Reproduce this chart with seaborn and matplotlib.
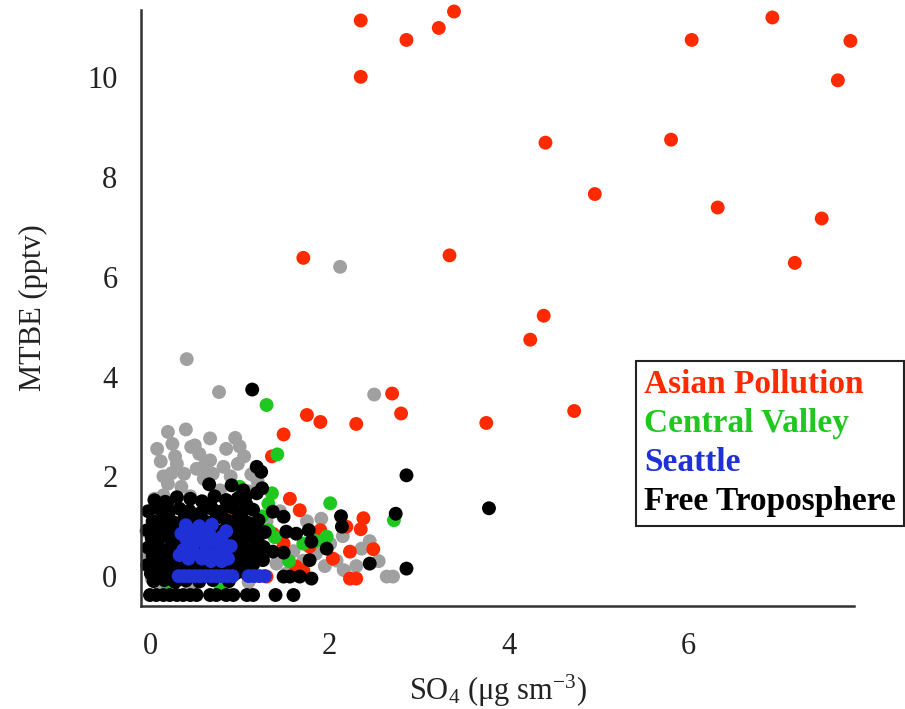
import matplotlib
matplotlib.use("Agg")
import matplotlib.pyplot as plt
from matplotlib.lines import Line2D
import seaborn as sns
import pandas as pd

# ---------------- data ----------------
gray_x = [2.12, 0.41, 0.77, 2.50, 0.20, 0.40, 0.67, 0.95, 0.46, 0.28, 1.05, 0.67, 0.52, 0.82,
          0.24, 1.13, 0.35, 0.15, 0.78, 0.05, 0.30, 0.55, 0.90, 0.12, 0.60, 0.38, 0.98, 0.20,
          0.70, 1.20, 1.10, 0.45, 1.91, 2.36, 2.64, 2.71, 2.01, 1.41, 1.52, 1.71, 2.08, 2.16,
          1.85, 1.60, 1.95, 2.55, 2.45, 1.30, 1.25, -0.03, -0.04, 0.02, 0.10, 0.45, 0.85,
          1.10, 0.02, 1.75, 2.15, 2.30, 1.45, 0.08, 0.25, 0.50, 0.85, 1.00, 0.60, 0.15]
gray_y = [6.20, 4.35, 3.69, 3.64, 2.89, 2.94, 2.76, 2.77, 2.59, 2.40, 2.40, 2.32, 2.15, 2.19,
          2.06, 2.04, 1.79, 1.62, 1.72, 1.55, 2.25, 2.45, 2.00, 2.30, 1.95, 2.05, 2.25, 1.85,
          2.05, 1.90, 1.70, 1.60, 1.15, 0.55, -0.01, -0.01, 0.65, 0.25, 0.05, 0.31, 0.31, 0.12,
          0.45, 0.50, 0.20, 0.30, 0.70, 1.10, 0.60, 0.40, 0.90, 1.30, -0.15, -0.20, -0.15,
          -0.12, -0.05, 1.10, 0.80, 0.20, 1.30, 2.55, 2.65, 2.62, 2.55, 2.60, 2.20, 2.00]

red_x = [2.35, 2.35, 2.86, 3.22, 3.39, 4.41, 4.96, 6.04, 6.94, 7.81, 7.67, 5.81, 3.34, 4.39,
         4.24, 6.33, 7.49, 7.19, 1.71, 2.70, 2.80, 3.75, 4.73,
         1.75, 1.90, 2.30, 1.49, 1.36, 1.56, 1.67, 2.38, 2.35, 2.23, 2.49, 2.23, 2.30, 1.90,
         2.04, 1.63, 1.71, 1.37, 1.49, 1.30, 0.85, 1.06, 1.78, 2.19]
red_y = [11.14, 10.01, 10.75, 10.99, 11.32, 8.69, 7.66, 10.75, 11.20, 10.73, 9.94, 8.75, 6.43,
         5.22, 4.74, 7.39, 7.17, 6.28, 6.38, 3.66, 3.26, 3.07, 3.31,
         3.23, 3.09, 3.05, 2.84, 2.40, 1.55, 1.32, 1.16, 0.94, 0.49, 0.54, -0.05, -0.05, 0.92,
         0.35, 0.19, 0.12, 0.85, 0.65, -0.01, 1.29, 1.09, 0.59, 0.99]

green_x = [1.30, 1.42, 1.36, 2.01, 2.72, 1.32, 1.19, 1.15, 1.32, 1.39, 1.97, 1.71, 1.00, 0.78,
           0.20, 0.89, 1.17, 1.25, 1.55, 1.85]
green_y = [3.43, 2.44, 1.66, 1.46, 1.12, 1.45, 0.59, 0.32, 0.92, 0.78, 0.79, 0.65, 1.79, -0.18,
           -0.18, 0.12, 0.45, 1.20, 0.30, 0.70]

black_x = [1.14, 1.19, 1.24, 2.86, 0.66, 0.91, 1.04, 1.19, 0.19, 0.67, 0.85, 1.08, 1.37, 1.49,
           2.13, 2.74, 2.14, 1.52, 1.63, 1.77, 1.80, 1.97, 1.26, 1.37, 1.49, 1.78, 2.45, 2.86,
           1.49, 1.56, 1.67, 1.80, 3.78, 1.06, 1.25,
           # floor row (below detection)
           0.00, 0.07, 0.15, 0.22, 0.30, 0.37, 0.45, 0.52, 0.67, 0.74, 0.85, 0.93, 1.08, 1.15,
           1.40, 1.60,
           # dense core
           0.05, 0.17, 0.30, 0.45, 0.58, 0.72, 0.85, 0.98,
           -0.02, 0.09, 0.21, 0.33, 0.44, 0.57, 0.70, 0.80, 0.93, 1.03, 1.15,
           0.03, 0.14, 0.26, 0.38, 0.50, 0.62, 0.74, 0.86, 0.97, 1.09, 1.21,
           -0.03, 0.08, 0.20, 0.31, 0.45, 0.58, 0.69, 0.81, 0.94, 1.05, 1.17, 1.28,
           0.02, 0.13, 0.24, 0.36, 0.48, 0.60, 0.72, 0.84, 0.96, 1.08, 1.20,
           -0.02, 0.09, 0.21, 0.33, 0.46, 0.57, 0.69, 0.81, 0.92, 1.04, 1.16, 1.27,
           0.03, 0.15, 0.27, 0.39, 0.51, 0.63, 0.75, 0.87, 0.99, 1.11, 1.23,
           -0.03, 0.08, 0.19, 0.31, 0.43, 0.55, 0.67, 0.79, 0.91, 1.03, 1.15,
           0.01, 0.12, 0.24, 0.36, 0.48, 0.60, 0.72, 0.84, 0.96, 1.08,
           0.04, 0.16, 0.28, 0.40, 0.55, 0.70, 0.88]
black_y = [3.74, 2.19, 2.09, 2.02, 1.84, 1.82, 1.72, 1.66, 1.45, 1.45, 1.52, 1.42, 1.29, 1.19,
           1.20, 1.25, 0.99, 0.89, 0.85, 0.92, 0.69, 0.55, 0.32, 0.49, 0.47, 0.32, 0.25, 0.15,
           -0.01, -0.01, -0.01, -0.05, 1.36, 1.56, 1.76,
           -0.38, -0.38, -0.38, -0.38, -0.38, -0.38, -0.38, -0.38, -0.38, -0.38, -0.38, -0.38,
           -0.38, -0.38, -0.38, -0.38,
           1.52, 1.49, 1.58, 1.55, 1.50, 1.60, 1.52, 1.56,
           1.30, 1.36, 1.28, 1.35, 1.31, 1.27, 1.34, 1.30, 1.37, 1.29, 1.33,
           1.10, 1.15, 1.08, 1.14, 1.12, 1.09, 1.16, 1.11, 1.13, 1.07, 1.12,
           0.92, 0.97, 0.93, 0.96, 0.90, 0.95, 0.98, 0.91, 0.96, 0.93, 0.97, 0.88,
           0.75, 0.79, 0.73, 0.77, 0.78, 0.74, 0.76, 0.80, 0.72, 0.78, 0.74,
           0.57, 0.60, 0.55, 0.59, 0.61, 0.56, 0.58, 0.62, 0.57, 0.60, 0.55, 0.58,
           0.41, 0.38, 0.42, 0.39, 0.43, 0.37, 0.40, 0.42, 0.38, 0.41, 0.36,
           0.22, 0.25, 0.20, 0.23, 0.21, 0.24, 0.19, 0.22, 0.25, 0.20, 0.23,
           0.05, 0.03, 0.07, 0.04, 0.06, 0.02, 0.05, 0.03, 0.06, 0.04,
           -0.10, -0.08, -0.12, -0.09, -0.11, -0.08, -0.10]

blue_x = [0.69, 0.45, 0.41, 0.58, 0.37, 0.50, 0.63, 0.80, 0.84, 0.87, 0.72, 0.58, 0.43, 0.35,
          0.52, 0.66, 0.78, 0.90, 0.48, 0.55, 0.40, 0.73, 0.33, 0.62, 0.80, 0.68, 0.85,
          0.32, 0.38, 0.44, 0.50, 0.56, 0.62, 0.68, 0.74, 0.80, 0.86, 0.92, 1.10, 1.16, 1.22, 1.28]
blue_y = [1.03, 0.91, 0.72, 0.72, 0.52, 0.45, 0.59, 0.78, 0.52, 0.35, 0.42, 0.35, 0.35, 0.85,
          0.88, 0.85, 0.62, 0.60, 0.62, 1.00, 1.02, 0.70, 0.42, 0.45, 0.30, 0.30, 0.90,
          0.0, 0.0, 0.0, 0.0, 0.0, 0.0, 0.0, 0.0, 0.0, 0.0, 0.0, 0.0, 0.0, 0.0, 0.0]

legend_labels = ["Asian Pollution", "Central Valley", "Seattle", "Free Troposphere"]
x_ticks = [0, 2, 4, 6]
y_ticks = [0, 2, 4, 6, 8, 10]

# ---------------- styling ----------------
colors = {"All": "#a0a0a0", "Asian Pollution": "#ff2a00", "Central Valley": "#1ec81e",
          "Seattle": "#1e30d6", "Free Troposphere": "#000000"}

sns.set_theme(style="white")
plt.rcParams["font.family"] = ["Liberation Serif", "DejaVu Serif"]
plt.rcParams["mathtext.fontset"] = "custom"
plt.rcParams["mathtext.rm"] = "Liberation Serif"
plt.rcParams["mathtext.it"] = "Liberation Serif:italic"

frames = [
    pd.DataFrame({"x": gray_x, "y": gray_y, "group": "All"}),
    pd.DataFrame({"x": red_x, "y": red_y, "group": "Asian Pollution"}),
    pd.DataFrame({"x": green_x, "y": green_y, "group": "Central Valley"}),
    pd.DataFrame({"x": black_x, "y": black_y, "group": "Free Troposphere"}),
    pd.DataFrame({"x": blue_x, "y": blue_y, "group": "Seattle"}),
]
df = pd.concat(frames, ignore_index=True)

fig = plt.figure(figsize=(9.05, 7.09), dpi=100)
ax = fig.add_axes([141 / 905, 1 - 606 / 709, (854 - 141) / 905, (606 - 10) / 709])

sns.scatterplot(data=df, x="x", y="y", hue="group", palette=colors, s=100,
                linewidth=0, edgecolor="none", legend=False, ax=ax, clip_on=False)

ax.set_xlim(-0.1, 7.85)
ax.set_ylim(-0.6, 11.35)
ax.set_xticks(x_ticks)
ax.set_yticks(y_ticks)

for side in ["top", "right"]:
    ax.spines[side].set_visible(False)
for side in ["left", "bottom"]:
    ax.spines[side].set_color("#333333")
    ax.spines[side].set_linewidth(1.8)

ax.tick_params(axis="both", which="major", direction="out", length=11, width=1.3,
               color="#222222", labelsize=22, labelcolor="#222222")
ax.tick_params(axis="y", pad=6)
ax.tick_params(axis="x", pad=8)

ax.set_xlabel("SO$_4$ (\u03bcg sm$^{-3}$)", fontsize=22, color="#222222", labelpad=8)
ax.set_ylabel("MTBE (pptv)", fontsize=22, color="#222222", labelpad=28)

handles = [Line2D([], [], linestyle="none", marker=None) for _ in legend_labels]
leg = ax.legend(handles, legend_labels, loc="upper left",
                bbox_to_anchor=((636 - 141) / (854 - 141), (606 - 361) / (606 - 10)),
                borderaxespad=0, handlelength=0, handletextpad=0, labelspacing=0.24,
                frameon=True, fancybox=False, framealpha=1, edgecolor="#222222",
                borderpad=0.25,
                prop={"family": "Liberation Serif", "weight": "bold", "size": 24},
                labelcolor=[colors[l] for l in legend_labels])
leg.get_frame().set_linewidth(1.5)

fig.savefig("out.png", dpi=100)
